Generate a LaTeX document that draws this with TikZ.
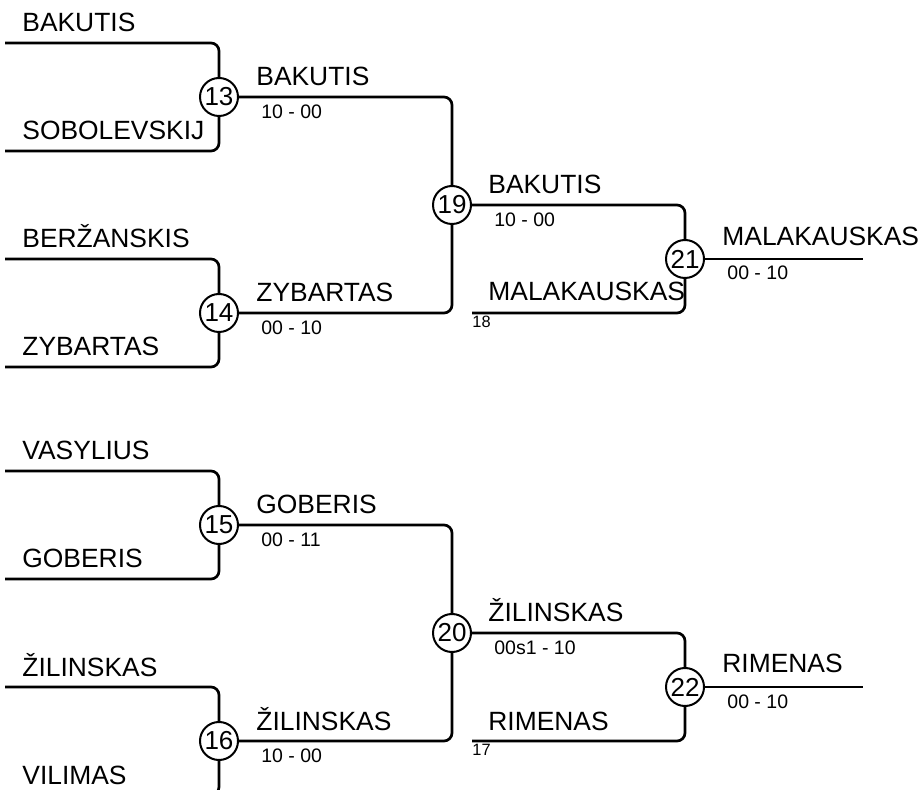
\documentclass[tikz,border=0pt]{standalone}
\usepackage{fontspec}
\setmainfont{Liberation Sans}
\tikzset{
  bline/.style={line width=1.35pt, rounded corners=4pt},
  matchno/.style={circle, draw, line width=1pt, minimum size=19pt, inner sep=0pt, fill=white, font=\fontsize{13}{13}\selectfont},
  player/.style={anchor=base west, inner sep=0pt, font=\fontsize{13.2}{14}\selectfont},
  result/.style={anchor=north west, inner sep=0pt, font=\fontsize{9.75}{11}\selectfont},
  seed/.style={anchor=north west, inner sep=0pt, font=\fontsize{8.2}{9}\selectfont},
}
\begin{document}
\begin{tikzpicture}[x=0.5pt, y=-0.5pt]
\useasboundingbox (0,0) rectangle (921,790);
\clip (0,0) rectangle (921,790);
%-- matches
\node[matchno] (m13) at (219,97) {13};
\node[matchno] (m14) at (219,313) {14};
\node[matchno] (m19) at (452,205) {19};
\node[matchno] (m21) at (685,259) {21};
\node[matchno] (m15) at (219,525) {15};
\node[matchno] (m16) at (219,741) {16};
\node[matchno] (m20) at (452,633) {20};
\node[matchno] (m22) at (685,687) {22};
%-- first round
\coordinate (s13a) at (5,43);
\coordinate (s13b) at (5,151);
\coordinate (s14a) at (5,259);
\coordinate (s14b) at (5,367);
\node[player] (p13a) at (22,32) {BAKUTIS};
\node[player] (p13b) at (22,140) {SOBOLEVSKIJ};
\node[player] (p14a) at (22,248) {BERŽANSKIS};
\node[player] (p14b) at (22,356) {ZYBARTAS};
\draw[bline] (s13a) -| (m13);
\draw[bline] (s13b) -| (m13);
\draw[bline] (s14a) -| (m14);
\draw[bline] (s14b) -| (m14);
%--
\coordinate (s15a) at (5,471);
\coordinate (s15b) at (5,579);
\coordinate (s16a) at (5,687);
\coordinate (s16b) at (5,795);
\node[player] (p15a) at (22,460) {VASYLIUS};
\node[player] (p15b) at (22,568) {GOBERIS};
\node[player] (p16a) at (22,676) {ŽILINSKAS};
\node[player] (p16b) at (22,784) {VILIMAS};
\draw[bline] (s15a) -| (m15);
\draw[bline] (s15b) -| (m15);
\draw[bline] (s16a) -| (m16);
\draw[bline] (s16b) -| (m16);
%-- second round
\node[player] (w13) at (256,86) {BAKUTIS};
\node[result] (r13) at (261,104) {10 - 00};
\node[player] (w14) at (256,302) {ZYBARTAS};
\node[result] (r14) at (261,320) {00 - 10};
\draw[bline] (m13) -| (m19);
\draw[bline] (m14) -| (m19);
%--
\node[player] (w15) at (256,514) {GOBERIS};
\node[result] (r15) at (261,532) {00 - 11};
\node[player] (w16) at (256,730) {ŽILINSKAS};
\node[result] (r16) at (261,748) {10 - 00};
\draw[bline] (m15) -| (m20);
\draw[bline] (m16) -| (m20);
%-- third round
\node[player] (w19) at (488,194) {BAKUTIS};
\node[result] (r19) at (494,212) {10 - 00};
\coordinate (s18) at (472,313);
\node[player] (p18) at (488,301) {MALAKAUSKAS};
\node[seed] (q18) at (472,316) {18};
\draw[bline] (m19) -| (m21);
\draw[bline] (s18) -| (m21);
\coordinate (f21) at (863,259);
\node[player] (w21) at (722,246) {MALAKAUSKAS};
\node[result] (r21) at (727,265) {00 - 10};
\draw[bline] (m21) -- (f21);
%--
\node[player] (w20) at (488,622) {ŽILINSKAS};
\node[result] (r20) at (494,640) {00s1 - 10};
\coordinate (s17) at (472,741);
\node[player] (p17) at (488,730) {RIMENAS};
\node[seed] (q17) at (472,744) {17};
\draw[bline] (m20) -| (m22);
\draw[bline] (s17) -| (m22);
\coordinate (f22) at (863,687);
\node[player] (w22) at (722,673) {RIMENAS};
\node[result] (r22) at (727,694) {00 - 10};
\draw[bline] (m22) -- (f22);
\end{tikzpicture}
\end{document}
